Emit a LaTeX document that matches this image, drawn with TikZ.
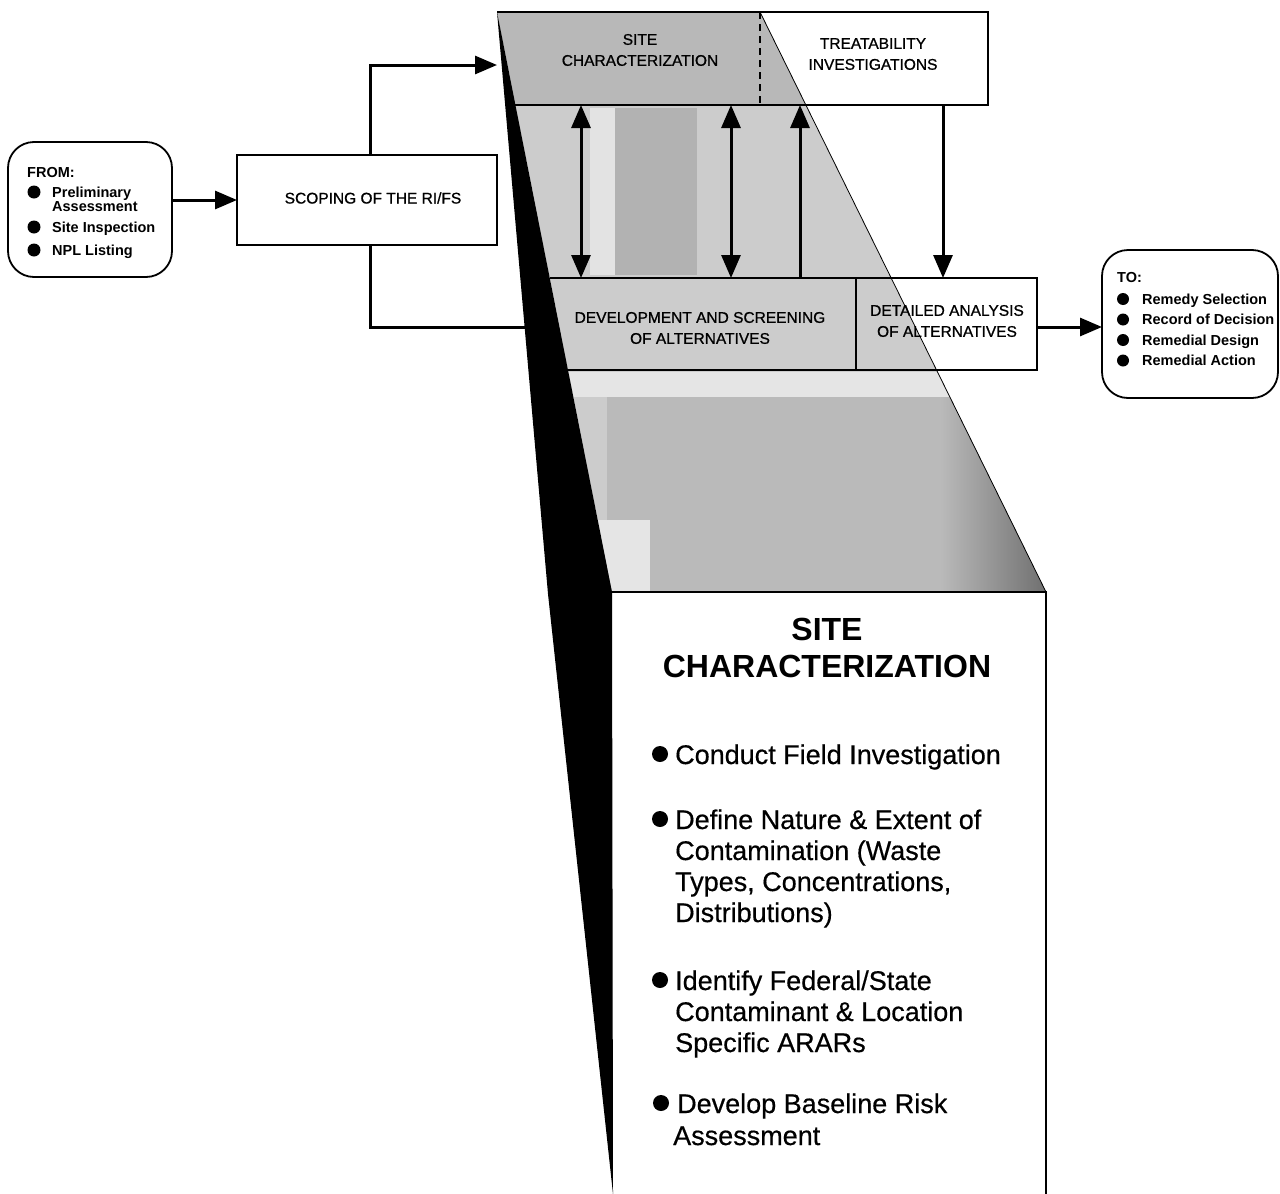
\documentclass[tikz,border=0pt]{standalone}
\usepackage{fontspec}
\setmainfont{Liberation Sans}
\newfontfamily\medfont{Liberation Sans}[FakeBold=0.9]
\newfontfamily\bigfont{Liberation Sans}[FakeBold=0.5]
\usetikzlibrary{arrows.meta}
\begin{document}
\begin{tikzpicture}[x=1pt,y=-1pt,
  boxline/.style={line width=1.8pt},
  conn/.style={line width=3pt},
  arr/.style={conn,-{Triangle[length=22pt,width=18pt]}},
  darr/.style={conn,{Triangle[length=23pt,width=19pt]}-{Triangle[length=23pt,width=19pt]}},
  uarr/.style={conn,-{Triangle[length=23pt,width=19pt]}},
  wbox/.style={draw,boxline,fill=white,inner sep=0pt,outer sep=0pt},
  rbox/.style={wbox,rounded corners=26pt},
  lbl/.style={font=\medfont\fontsize{15.5}{21}\selectfont,align=center,inner sep=0pt},
  small/.style={font=\fontsize{14.5}{14}\selectfont\bfseries,anchor=base west,inner sep=0pt},
  bigtxt/.style={font=\bigfont\fontsize{27}{31}\selectfont,anchor=base west,inner sep=0pt},
  bigtitle/.style={font=\fontsize{32}{37}\selectfont\bfseries,anchor=base,inner sep=0pt},
]
\useasboundingbox (0,0) rectangle (1280,1194);

% ---------- FROM box ----------
\node[rbox, minimum width=164pt, minimum height=135pt] (from) at (90,209.5) {};
\node[small] (fromh) at (27,177) {FROM:};
\fill (34,192) circle (6.5);
\node[small] (f1) at (52,197) {Preliminary};
\node[small] (f1b) at (52,211) {Assessment};
\fill (34,227) circle (6.5);
\node[small] (f2) at (52,232) {Site Inspection};
\fill (34,250) circle (6.5);
\node[small] (f3) at (52,255) {NPL Listing};

% ---------- scoping ----------
\node[wbox, minimum width=260pt, minimum height=90pt] (scope) at (367,200) {};
\node[lbl] (scopet) at (373,198) {SCOPING OF THE RI/FS};

% ---------- boxes behind the funnel ----------
\node[wbox, minimum width=228pt, minimum height=93pt] (treat) at (874,58.5) {};
\node[wbox, minimum width=181pt, minimum height=92pt] (detail) at (946.5,324) {};
\node[wbox, draw=none, minimum width=434pt, minimum height=602pt] (big) at (829,893) {};

% ---------- funnel ----------
\coordinate (tl) at (497,12);
\coordinate (tr) at (760,12);
\coordinate (br) at (1046,592);
\coordinate (bl) at (612,592);
\begin{scope}
  \clip (tl) -- (tr) -- (br) -- (bl) -- cycle;
  \fill[black!20] (480,0) rectangle (1060,600);
  \fill[black!28] (480,12) rectangle (1060,105);
  \fill[black!11] (590,108) rectangle (615,275);
  \fill[black!30] (615,108) rectangle (697,275);
  \fill[black!10] (480,372) rectangle (1060,397);
  \fill[black!27] (607,397) rectangle (1060,592);
  \fill[black!10] (560,520) rectangle (650,592);
  \shade[left color=black!27, right color=black!60] (940,397) rectangle (1060,592);
\end{scope}
\draw[line width=0.8pt] (tr) -- (br);
\fill (tl) -- (bl) -- (613,1194) -- (548,594) -- cycle;

% lines of boxes within funnel
\coordinate (scbl) at (515.4,105);
\coordinate (dvtl) at (549.7,278);
\coordinate (dvbl) at (568,370);
\draw[boxline] (tl) -- (treat.north west);
\draw[boxline] (scbl) -- (treat.south east);
\draw[boxline, dash pattern=on 7pt off 5pt] (treat.north west) -- (treat.south west);
\draw[boxline] (dvtl) -- (detail.north east);
\draw[boxline] (dvbl) -- (detail.south east);
\draw[boxline] (detail.north west) -- (detail.south west);
\draw[boxline] (big.north west) -- (big.north east) -- (big.south east);

% ---------- labels ----------
\node[lbl] (sitec) at (640,50) {SITE\\CHARACTERIZATION};
\node[lbl] (treatt) at (873,54) {TREATABILITY\\INVESTIGATIONS};
\node[lbl] (devt) at (700,328) {DEVELOPMENT AND SCREENING\\OF ALTERNATIVES};
\node[lbl] (detailt) at (947,321) {DETAILED ANALYSIS\\OF ALTERNATIVES};

% ---------- TO box ----------
\node[rbox, minimum width=176pt, minimum height=148pt] (to) at (1190,324) {};
\node[small] (toh) at (1117,282) {TO:};
\fill (1123,299) circle (6);
\node[small] (t1) at (1142,304) {Remedy Selection};
\fill (1123,319.5) circle (6);
\node[small] (t2) at (1142,324.5) {Record of Decision};
\fill (1123,340) circle (6);
\node[small] (t3) at (1142,345) {Remedial Design};
\fill (1123,360.5) circle (6);
\node[small] (t4) at (1142,365.5) {Remedial Action};

% ---------- big box text ----------
\node[bigtitle] (bt1) at (827,640) {SITE};
\node[bigtitle] (bt2) at (827,677) {CHARACTERIZATION};
\fill (660,754) circle (8);
\node[bigtxt] (b1) at (675,764) {Conduct Field Investigation};
\fill (660,819) circle (8);
\node[bigtxt] (b2) at (675,829) {Define Nature \& Extent of};
\node[bigtxt] (b2b) at (675,860) {Contamination (Waste};
\node[bigtxt] (b2c) at (675,891) {Types, Concentrations,};
\node[bigtxt] (b2d) at (675,922) {Distributions)};
\fill (660,980) circle (8);
\node[bigtxt] (b3) at (675,990) {Identify Federal/State};
\node[bigtxt] (b3b) at (675,1021) {Contaminant \& Location};
\node[bigtxt] (b3c) at (675,1052) {Specific ARARs};
\fill (661,1103) circle (8);
\node[bigtxt] (b4) at (677,1113) {Develop Baseline Risk};
\node[bigtxt] (b4b) at (673,1145) {Assessment};

% ---------- connectors ----------
\coordinate (scin) at (497,65);
\coordinate (devin) at (525,327);
\draw[arr] (from.east |- scope.west) -- (scope.west);
\draw[arr] ([xshift=3pt]scope.north) |- (scin);
\draw[conn] ([xshift=3pt]scope.south) |- (devin);
\coordinate (a1t) at (581,105);  \coordinate (a1b) at (581,278);
\coordinate (a2t) at (731,105);  \coordinate (a2b) at (731,278);
\coordinate (a3t) at (800,105);  \coordinate (a3b) at (800,278);
\coordinate (tdt) at (943,105);
\draw[darr] (a1t) -- (a1b);
\draw[darr] (a2t) -- (a2b);
\draw[uarr] (a3b) -- (a3t);
\draw[uarr] (tdt) -- (tdt |- detail.north);
\draw[arr] ([yshift=-3pt]detail.east) -- ([yshift=-3pt]detail.east -| to.west);
\end{tikzpicture}
\end{document}
